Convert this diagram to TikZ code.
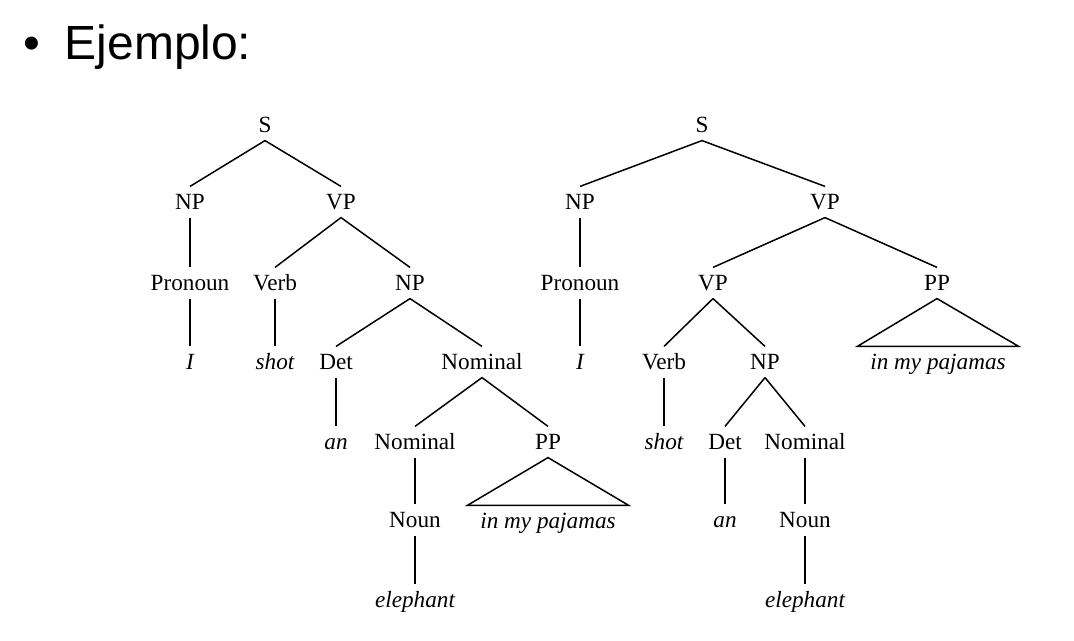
\documentclass[tikz,border=0pt]{standalone}
\usepackage{fontspec}
\setmainfont{Liberation Serif}
\newfontfamily\titlefont{Liberation Sans}
\usetikzlibrary{positioning,calc}
\tikzset{cat/.style={font=\fontsize{13.2}{15}\selectfont,text height=8.7pt,text depth=0pt,inner xsep=1pt,inner ysep=4.1pt},
  word/.style={cat,font=\fontsize{13.2}{15}\selectfont\itshape},
  phrase/.style={word,inner xsep=7pt}}

\begin{document}
\begin{tikzpicture}[x=0.02cm,y=-0.02cm,line width=0.85pt]
\useasboundingbox (0,0) rectangle (1074,641);
\node[font=\titlefont\fontsize{27.3}{30}\selectfont,anchor=base,inner sep=0] (bul) at (32,60) {•};
\node[font=\titlefont\fontsize{27.3}{30}\selectfont,anchor=base west,inner sep=0] (title) at (64,60) {Ejemplo:};
% first tree
\node[cat] (S1) at (265,125) {S};
\node[cat] (NP1) at (190,202) {NP};
\node[cat] (VP1) at (341,202) {VP};
\node[cat] (Pro1) at (190,283) {Pronoun};
\node[cat] (V1) at (275,283) {Verb};
\node[cat] (NP2) at (410,283) {NP};
\node[word] (I1) at (190,362) {I};
\node[word] (shot1) at (275,362) {shot};
\node[cat] (Det1) at (336,362) {Det};
\node[cat] (Nom1) at (482,362) {Nominal};
\node[word] (an1) at (336,442) {an};
\node[cat] (Nom2) at (415,442) {Nominal};
\node[cat] (PP1) at (548,442) {PP};
\node[cat] (N1) at (415,520) {Noun};
\node[phrase] (pj1) at (548,521) {in my pajamas};
\node[word] (el1) at (415,600) {elephant};
\draw (S1.south) -- (NP1.north);
\draw (S1.south) -- (VP1.north);
\draw (NP1.south) -- (Pro1.north);
\draw (Pro1.south) -- (I1.north);
\draw (VP1.south) -- (V1.north);
\draw (VP1.south) -- (NP2.north);
\draw (V1.south) -- (shot1.north);
\draw (NP2.south) -- (Det1.north);
\draw (NP2.south) -- (Nom1.north);
\draw (Det1.south) -- (an1.north);
\draw (Nom1.south) -- (Nom2.north);
\draw (Nom1.south) -- (PP1.north);
\draw (Nom2.south) -- (N1.north);
\draw (N1.south) -- (el1.north);
\draw (PP1.south) -- (pj1.north west) -- (pj1.north east) -- cycle;
% second tree
\node[cat] (S2) at (702,125) {S};
\node[cat] (NP3) at (580,202) {NP};
\node[cat] (VP2) at (825,202) {VP};
\node[cat] (Pro2) at (580,283) {Pronoun};
\node[cat] (VP3) at (713,283) {VP};
\node[cat] (PP2) at (937,283) {PP};
\node[word] (I2) at (580,362) {I};
\node[cat] (V2) at (664,362) {Verb};
\node[cat] (NP4) at (765,362) {NP};
\node[phrase] (pj2) at (938,362) {in my pajamas};
\node[word] (shot2) at (664,442) {shot};
\node[cat] (Det2) at (725,442) {Det};
\node[cat] (Nom3) at (805,442) {Nominal};
\node[word] (an2) at (725,520) {an};
\node[cat] (N2) at (805,520) {Noun};
\node[word] (el2) at (805,600) {elephant};
\draw (S2.south) -- (NP3.north);
\draw (S2.south) -- (VP2.north);
\draw (NP3.south) -- (Pro2.north);
\draw (Pro2.south) -- (I2.north);
\draw (VP2.south) -- (VP3.north);
\draw (VP2.south) -- (PP2.north);
\draw (PP2.south) -- (pj2.north west) -- (pj2.north east) -- cycle;
\draw (VP3.south) -- (V2.north);
\draw (VP3.south) -- (NP4.north);
\draw (V2.south) -- (shot2.north);
\draw (NP4.south) -- (Det2.north);
\draw (NP4.south) -- (Nom3.north);
\draw (Det2.south) -- (an2.north);
\draw (Nom3.south) -- (N2.north);
\draw (N2.south) -- (el2.north);
\end{tikzpicture}
\end{document}
